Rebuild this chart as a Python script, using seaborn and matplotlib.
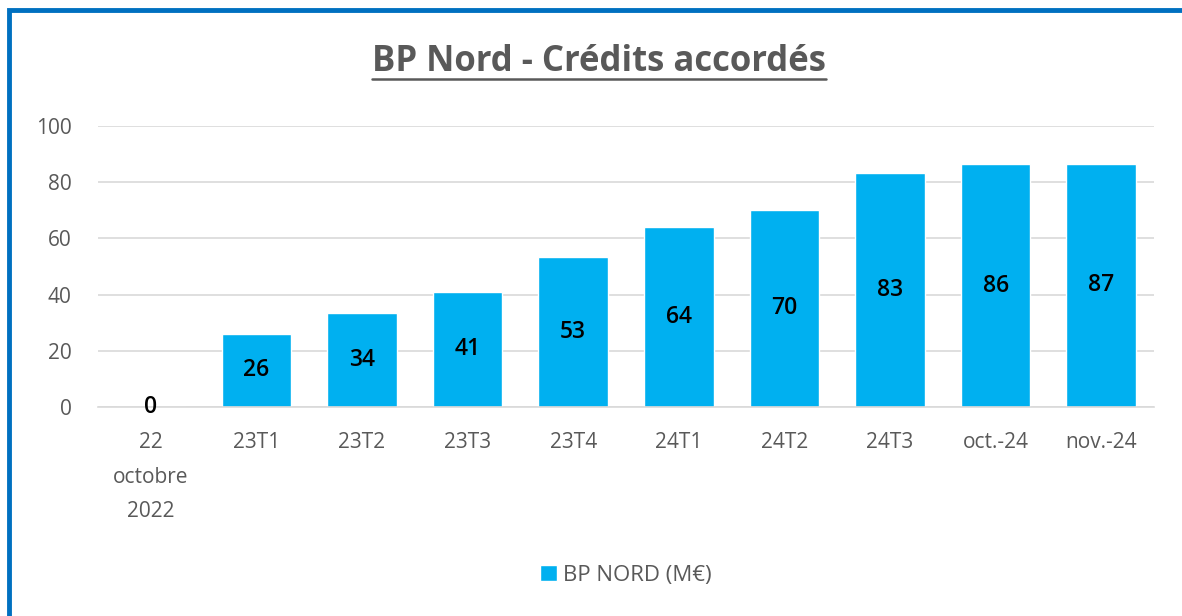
import matplotlib
matplotlib.use("Agg")
import numpy as np
import pandas as pd
import seaborn as sns
import matplotlib.pyplot as plt
from matplotlib.patches import Rectangle
from matplotlib.lines import Line2D

categories = ["22\noctobre\n2022", "23T1", "23T2", "23T3", "23T4",
              "24T1", "24T2", "24T3", "oct.-24", "nov.-24"]
values = [0, 26, 33.6, 41, 53.4, 64.2, 70.2, 83.4, 86.3, 86.6]
yticks = [0, 20, 40, 60, 80, 100]
series_name = "BP NORD (M€)"
title = "BP Nord - Crédits accordés"

sns.set_theme(style="white")
plt.rcParams['font.family'] = ['Open Sans', 'DejaVu Sans']

grey = "#595959"
bar_color = "#00B0F0"

df = pd.DataFrame({"cat": categories, "val": values})

fig = plt.figure(figsize=(11.82, 6.16), dpi=100)
ax = fig.add_axes([98 / 1182, 1 - 407 / 616, 1056 / 1182, 281 / 616])

sns.barplot(data=df, x="cat", y="val", color=bar_color, width=0.66,
            saturation=1, ax=ax, label=series_name)

ax.set_ylim(0, 100)
ax.set_yticks(yticks)
ax.set_yticklabels([str(t) for t in yticks], color=grey, fontsize=15)
ax.tick_params(axis="y", length=0, pad=19)
ax.tick_params(axis="x", length=0, pad=18, colors=grey, labelsize=15)
for lab in ax.get_xticklabels():
    lab.set_linespacing(1.85)
    lab.set_verticalalignment("top")
ax.set_xlabel("")
ax.set_ylabel("")
ax.grid(axis="y", color="#D9D9D9", linewidth=1.2)
ax.set_axisbelow(True)
for s in ["left", "right", "top"]:
    ax.spines[s].set_visible(False)
ax.spines["bottom"].set_color("#D9D9D9")
ax.spines["bottom"].set_linewidth(1.2)

labels = [f"{v:.0f}" for v in values]
ax.bar_label(ax.containers[0], labels=labels, label_type="center",
             fontsize=16.5, fontweight="semibold", color="black")

leg = ax.legend(loc="center", bbox_to_anchor=(0.5, -0.6), frameon=False,
                fontsize=16, handlelength=0.75, handleheight=0.75, handletextpad=0.3)
for t in leg.get_texts():
    t.set_color(grey)

# title with underline
ttl = fig.text(599 / 1182, 1 - 62 / 616, title, ha="center", va="center",
               fontsize=25, fontweight="bold", color=grey)
fig.canvas.draw()
bb = ttl.get_window_extent().transformed(fig.transFigure.inverted())
fig.add_artist(Line2D([bb.x0, bb.x1], [bb.y0 + 0.002, bb.y0 + 0.002],
                      transform=fig.transFigure, color=grey, linewidth=1.8))

# blue frame (left and top edges visible)
fig.add_artist(Rectangle((9 / 1182, -0.05), 1.1, 1 - 10 / 616 + 0.05,
                         transform=fig.transFigure, fill=False,
                         edgecolor="#0070C0", linewidth=3.5))

fig.savefig("out.png", dpi=100)
